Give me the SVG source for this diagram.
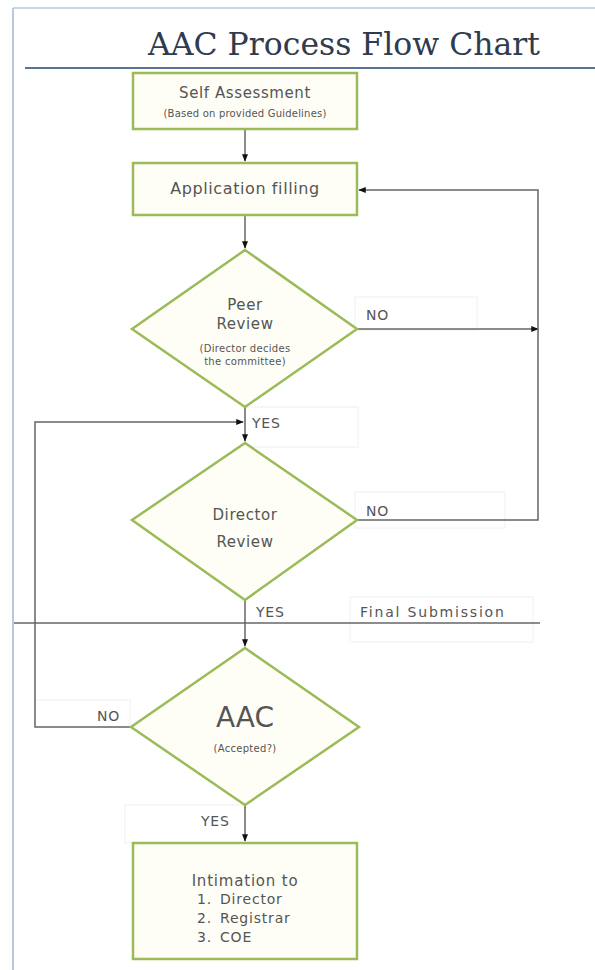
<svg xmlns="http://www.w3.org/2000/svg" width="595" height="970" viewBox="0 0 595 970">
<style>
.node{fill:#fefef6;stroke:#9bbb59;stroke-width:2.5}
.t{font-family:"DejaVu Sans",Verdana,sans-serif;fill:#555;text-anchor:middle}
.lbl{font-family:"DejaVu Sans",Verdana,sans-serif;fill:#555;font-size:14px;letter-spacing:0.8px}
.conn{fill:none;stroke:#666;stroke-width:1.5}
.lb{fill:none;stroke:#f0f0f0;stroke-width:1}
</style>
<defs>
<marker id="ah" viewBox="0 0 10 10" refX="9" refY="5" markerWidth="5" markerHeight="5" orient="auto">
<path d="M0,1 L10,5 L0,9 z" fill="#111"/>
</marker>
</defs>
<rect width="595" height="970" fill="#fff"/>
<g id="frame">
<line x1="13" y1="8" x2="595" y2="8" stroke="#c9d6e6" stroke-width="2"/>
<line x1="13" y1="8" x2="13" y2="970" stroke="#b9c9dd" stroke-width="2"/>
<line x1="25" y1="68" x2="595" y2="68" stroke="#5a7394" stroke-width="2"/>
<text x="148" y="55" font-family="DejaVu Serif,serif" font-size="32" fill="#2f3b4e" textLength="392" lengthAdjust="spacingAndGlyphs">AAC Process Flow Chart</text>
</g>
<g id="label-boxes">
<rect class="lb" x="355" y="297" width="122" height="33"/>
<rect class="lb" x="245" y="407" width="113" height="40"/>
<rect class="lb" x="355" y="492" width="150" height="36"/>
<rect class="lb" x="350" y="597" width="183" height="45"/>
<rect class="lb" x="35" y="700" width="95" height="27"/>
<rect class="lb" x="125" y="805" width="120" height="38"/>
</g>
<g id="connectors">
<line class="conn" x1="245" y1="129" x2="245" y2="161" marker-end="url(#ah)"/>
<line class="conn" x1="245" y1="215" x2="245" y2="248" marker-end="url(#ah)"/>
<line class="conn" x1="357" y1="329" x2="538" y2="329" marker-end="url(#ah)"/>
<polyline class="conn" points="538,329 538,190 359,190" marker-end="url(#ah)"/>
<line class="conn" x1="245" y1="407" x2="245" y2="441" marker-end="url(#ah)"/>
<polyline class="conn" points="357,520 538,520 538,329"/>
<line class="conn" x1="14" y1="623" x2="540" y2="623" stroke="#888"/>
<line class="conn" x1="245" y1="600" x2="245" y2="646" marker-end="url(#ah)"/>
<polyline class="conn" points="131,727 35,727 35,422 243,422" marker-end="url(#ah)"/>
<line class="conn" x1="245" y1="805" x2="245" y2="841" marker-end="url(#ah)"/>
</g>
<g id="self-assessment">
<rect class="node" x="133" y="73" width="224" height="56"/>
<text class="t" x="245" y="98" font-size="15" letter-spacing="0.6">Self Assessment</text>
<text class="t" x="245" y="117" font-size="10" letter-spacing="0.2">(Based on provided Guidelines)</text>
</g>
<g id="application-filling">
<rect class="node" x="133" y="163" width="224" height="52"/>
<text class="t" x="245" y="194" font-size="16" letter-spacing="0.6">Application filling</text>
</g>
<g id="peer-review">
<polygon class="node" points="245,250 357,329 245,407 132,329"/>
<text class="t" x="245" y="310" font-size="15" letter-spacing="0.6">Peer</text>
<text class="t" x="245" y="329" font-size="15" letter-spacing="0.6">Review</text>
<text class="t" x="245" y="352" font-size="10" letter-spacing="0.3">(Director decides</text>
<text class="t" x="245" y="365" font-size="10" letter-spacing="0.3">the committee)</text>
</g>
<g id="director-review">
<polygon class="node" points="245,443 357,520 245,600 132,520"/>
<text class="t" x="245" y="520" font-size="15" letter-spacing="0.6">Director</text>
<text class="t" x="245" y="547" font-size="15" letter-spacing="0.6">Review</text>
</g>
<g id="aac">
<polygon class="node" points="245,648 359,727 245,805 131,727"/>
<text class="t" x="245" y="727" font-size="28" fill="#333">AAC</text>
<text class="t" x="245" y="752" font-size="10" letter-spacing="0.3">(Accepted?)</text>
</g>
<g id="intimation">
<rect class="node" x="133" y="843" width="224" height="116"/>
<text class="t" x="245" y="886" font-size="15" letter-spacing="0.8">Intimation to</text>
<text class="lbl" x="197" y="904">1.</text><text class="lbl" x="220" y="904">Director</text>
<text class="lbl" x="197" y="923">2.</text><text class="lbl" x="220" y="923">Registrar</text>
<text class="lbl" x="197" y="942">3.</text><text class="lbl" x="220" y="942">COE</text>
</g>
<g id="labels">
<text class="lbl" x="366" y="320">NO</text>
<text class="lbl" x="252" y="428">YES</text>
<text class="lbl" x="366" y="516">NO</text>
<text class="lbl" x="256" y="617">YES</text>
<text class="lbl" x="360" y="617" style="letter-spacing:1.8px">Final Submission</text>
<text class="lbl" x="97" y="721">NO</text>
<text class="lbl" x="201" y="826">YES</text>
</g>
</svg>
